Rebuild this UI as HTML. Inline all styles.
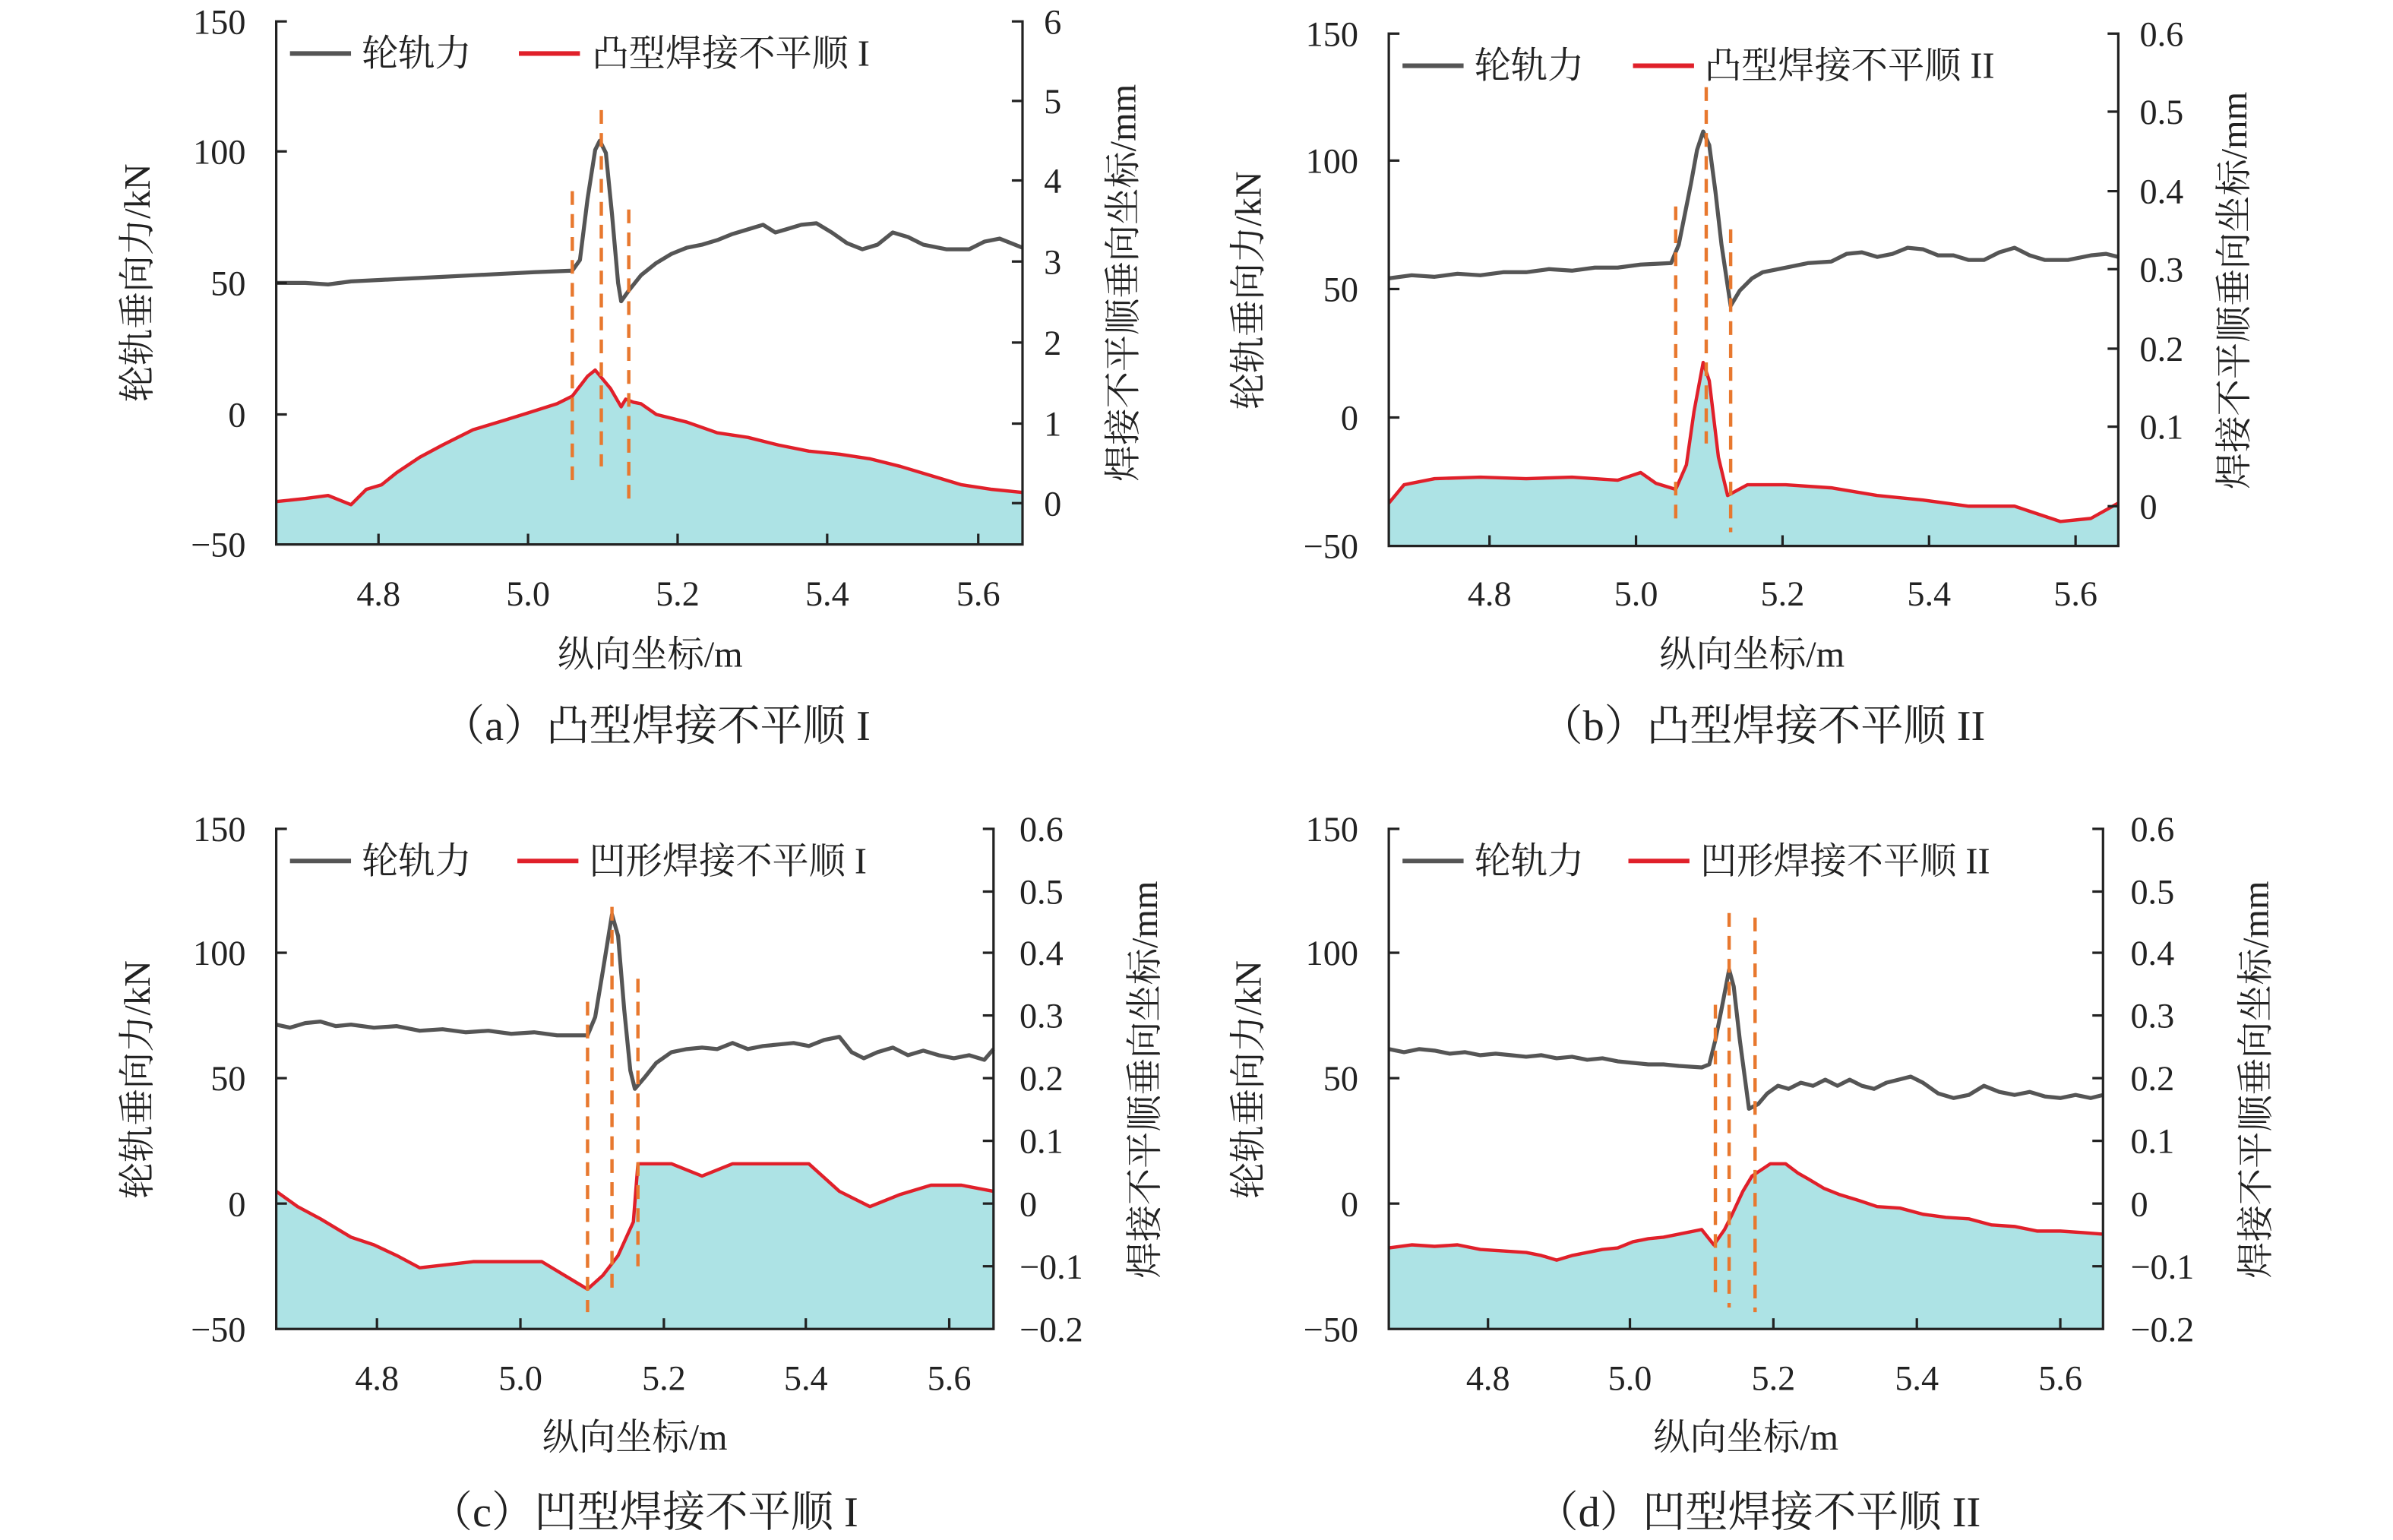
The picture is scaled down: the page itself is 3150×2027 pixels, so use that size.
<!DOCTYPE html>
<html><head><meta charset="utf-8"><style>
html,body{margin:0;padding:0;background:#fff;}
svg{display:block;}
text{font-family:"Liberation Serif","Noto Serif CJK SC",serif;fill:#222;}
.t{font-size:23px;}
.l{font-size:24px;}
.c{font-size:28px;}
.ax{stroke:#222;stroke-width:1.6;fill:none;}
.f{stroke:#555;stroke-width:2.6;fill:none;stroke-linejoin:round;}
.fill{fill:#ade3e5;stroke:none;}
.r{stroke:#e0202a;stroke-width:2.2;fill:none;stroke-linejoin:round;}
.d{stroke:#e8782e;stroke-width:2.2;stroke-dasharray:9 6;fill:none;}
</style></head><body>
<svg width="3150" height="2027" viewBox="0 0 1568 1007" preserveAspectRatio="none" xmlns="http://www.w3.org/2000/svg">

<!-- Panel a -->
<g>
<polygon class="fill" points="181,356 181,329 200,327 215,325 230,331 240,321 250,318 260,310 275,300 290,292 310,282 330,276 346,271 365,265 375,260 385,247 390,243 400,255 407,267 410,262 415,264 420,265 430,272 450,277 470,284 490,287 510,292 530,296 550,298 570,301 590,306 610,312 630,318 650,321 670,323 670,356"/>
<polyline class="r" points="181,328 200,326 215,324 230,330 240,320 250,317 260,309 275,299 290,291 310,281 330,275 346,270 365,264 375,259 385,246 390,242 400,254 407,266 410,261 415,263 420,264 430,271 450,276 470,283 490,286 510,291 530,295 550,297 570,300 590,305 610,311 630,317 650,320 670,322"/>
<polyline class="f" points="181,185 200,185 215,186 230,184 250,183 270,182 290,181 310,180 330,179 350,178 375,177 380,170 385,130 390,98 393,92 397,100 401,140 405,185 407,197 412,190 420,180 430,172 440,166 450,162 460,160 470,157 480,153 490,150 500,147 508,152 515,150 525,147 535,146 545,152 555,159 565,163 575,160 585,152 595,155 605,160 620,163 635,163 645,158 655,156 670,162"/>
<line class="d" x1="375" y1="125" x2="375" y2="318"/>
<line class="d" x1="394" y1="72" x2="394" y2="305"/>
<line class="d" x1="412" y1="137" x2="412" y2="330"/>
<polyline class="ax" points="188,14 181,14 181,356 670,356 670,14 663,14"/>
<g class="ax"><line x1="181" y1="99" x2="188" y2="99"/><line x1="181" y1="185" x2="188" y2="185"/><line x1="181" y1="271" x2="188" y2="271"/>
<line x1="663" y1="66" x2="670" y2="66"/><line x1="663" y1="118" x2="670" y2="118"/><line x1="663" y1="171" x2="670" y2="171"/><line x1="663" y1="224" x2="670" y2="224"/><line x1="663" y1="277" x2="670" y2="277"/><line x1="663" y1="329" x2="670" y2="329"/>
<line x1="248" y1="356" x2="248" y2="349"/><line x1="346" y1="356" x2="346" y2="349"/><line x1="444" y1="356" x2="444" y2="349"/><line x1="542" y1="356" x2="542" y2="349"/><line x1="641" y1="356" x2="641" y2="349"/></g>
<g class="t" text-anchor="end"><text x="161" y="22">150</text><text x="161" y="107">100</text><text x="161" y="193">50</text><text x="161" y="279">0</text><text x="161" y="364">−50</text></g>
<g class="t"><text x="684" y="22">6</text><text x="684" y="74">5</text><text x="684" y="126">4</text><text x="684" y="179">3</text><text x="684" y="232">2</text><text x="684" y="285">1</text><text x="684" y="337">0</text></g>
<g class="t" text-anchor="middle"><text x="248" y="396">4.8</text><text x="346" y="396">5.0</text><text x="444" y="396">5.2</text><text x="542" y="396">5.4</text><text x="641" y="396">5.6</text></g>
<line x1="190" y1="35" x2="230" y2="35" stroke="#555" stroke-width="3"/><text class="l" x="237" y="43">轮轨力</text>
<line x1="340" y1="35" x2="380" y2="35" stroke="#e0202a" stroke-width="3"/><text class="l" x="388" y="43">凸型焊接不平顺 I</text>
<text class="l" transform="translate(98,185) rotate(-90)" text-anchor="middle">轮轨垂向力/kN</text>
<text class="l" transform="translate(744,185) rotate(-90)" text-anchor="middle">焊接不平顺垂向坐标/mm</text>
<text class="l" x="426" y="436" text-anchor="middle">纵向坐标/m</text>
<text class="c" x="430" y="484" text-anchor="middle">（a）凸型焊接不平顺 I</text>
</g>

<!-- Panel b -->
<g>
<polygon class="fill" points="910,357 910,330 920,318 940,314 970,313 1000,314 1030,313 1060,315 1075,310 1085,317 1098,321 1105,305 1110,270 1116,238 1120,250 1126,300 1132,325 1145,318 1170,318 1200,320 1230,325 1260,328 1290,332 1320,332 1350,342 1370,340 1388,330 1388,357"/>
<polyline class="r" points="910,329 920,317 940,313 970,312 1000,313 1030,312 1060,314 1075,309 1085,316 1098,320 1105,304 1110,269 1116,237 1120,249 1126,299 1132,324 1145,317 1170,317 1200,319 1230,324 1260,327 1290,331 1320,331 1350,341 1370,339 1388,329"/>
<polyline class="f" points="910,182 925,180 940,181 955,179 970,180 985,178 1000,178 1015,176 1030,177 1045,175 1060,175 1075,173 1095,172 1100,160 1104,140 1108,120 1112,98 1116,86 1120,95 1124,125 1128,160 1134,200 1140,190 1148,182 1155,178 1170,175 1185,172 1200,171 1210,166 1220,165 1230,168 1240,166 1250,162 1260,163 1270,167 1280,167 1290,170 1300,170 1310,165 1320,162 1330,167 1340,170 1355,170 1370,167 1380,166 1388,168"/>
<line class="d" x1="1098" y1="135" x2="1098" y2="345"/>
<line class="d" x1="1118" y1="57" x2="1118" y2="290"/>
<line class="d" x1="1134" y1="150" x2="1134" y2="348"/>
<polyline class="ax" points="917,22 910,22 910,357 1388,357 1388,22 1381,22"/>
<g class="ax"><line x1="910" y1="105" x2="917" y2="105"/><line x1="910" y1="189" x2="917" y2="189"/><line x1="910" y1="273" x2="917" y2="273"/>
<line x1="1381" y1="73" x2="1388" y2="73"/><line x1="1381" y1="125" x2="1388" y2="125"/><line x1="1381" y1="176" x2="1388" y2="176"/><line x1="1381" y1="228" x2="1388" y2="228"/><line x1="1381" y1="279" x2="1388" y2="279"/><line x1="1381" y1="331" x2="1388" y2="331"/>
<line x1="976" y1="357" x2="976" y2="350"/><line x1="1072" y1="357" x2="1072" y2="350"/><line x1="1168" y1="357" x2="1168" y2="350"/><line x1="1264" y1="357" x2="1264" y2="350"/><line x1="1360" y1="357" x2="1360" y2="350"/></g>
<g class="t" text-anchor="end"><text x="890" y="30">150</text><text x="890" y="113">100</text><text x="890" y="197">50</text><text x="890" y="281">0</text><text x="890" y="365">−50</text></g>
<g class="t"><text x="1402" y="30">0.6</text><text x="1402" y="81">0.5</text><text x="1402" y="133">0.4</text><text x="1402" y="184">0.3</text><text x="1402" y="236">0.2</text><text x="1402" y="287">0.1</text><text x="1402" y="339">0</text></g>
<g class="t" text-anchor="middle"><text x="976" y="396">4.8</text><text x="1072" y="396">5.0</text><text x="1168" y="396">5.2</text><text x="1264" y="396">5.4</text><text x="1360" y="396">5.6</text></g>
<line x1="919" y1="43" x2="959" y2="43" stroke="#555" stroke-width="3"/><text class="l" x="966" y="51">轮轨力</text>
<line x1="1070" y1="43" x2="1110" y2="43" stroke="#e0202a" stroke-width="3"/><text class="l" x="1117" y="51">凸型焊接不平顺 II</text>
<text class="l" transform="translate(826,190) rotate(-90)" text-anchor="middle">轮轨垂向力/kN</text>
<text class="l" transform="translate(1472,190) rotate(-90)" text-anchor="middle">焊接不平顺垂向坐标/mm</text>
<text class="l" x="1148" y="436" text-anchor="middle">纵向坐标/m</text>
<text class="c" x="1155" y="484" text-anchor="middle">（b）凸型焊接不平顺 II</text>
</g>

<!-- Panel c -->
<g>
<polygon class="fill" points="181,869 181,780 195,790 210,798 230,810 245,815 260,822 275,830 310,826 355,826 375,838 385,844 395,835 405,822 415,800 418,762 440,762 460,770 480,762 530,762 550,780 570,790 590,782 610,776 630,776 651,780 651,869"/>
<polyline class="r" points="181,779 195,789 210,797 230,809 245,814 260,821 275,829 310,825 355,825 375,837 385,843 395,834 405,821 415,799 418,761 440,761 460,769 480,761 530,761 550,779 570,789 590,781 610,775 630,775 651,779"/>
<polyline class="f" points="181,670 190,672 200,669 210,668 220,671 230,670 245,672 260,671 275,674 290,673 305,675 320,674 335,676 350,675 365,677 385,677 390,665 395,635 401,598 405,612 409,660 413,700 416,712 422,705 430,695 440,688 450,686 460,685 470,686 480,682 490,686 500,684 510,683 520,682 530,684 540,680 550,678 558,688 566,692 575,688 585,685 595,690 605,687 615,690 625,692 635,690 645,693 651,686"/>
<line class="d" x1="385" y1="655" x2="385" y2="858"/>
<line class="d" x1="401" y1="593" x2="401" y2="848"/>
<line class="d" x1="418" y1="640" x2="418" y2="828"/>
<polyline class="ax" points="188,542 181,542 181,869 651,869 651,542 644,542"/>
<g class="ax"><line x1="181" y1="623" x2="188" y2="623"/><line x1="181" y1="705" x2="188" y2="705"/><line x1="181" y1="787" x2="188" y2="787"/>
<line x1="644" y1="583" x2="651" y2="583"/><line x1="644" y1="623" x2="651" y2="623"/><line x1="644" y1="664" x2="651" y2="664"/><line x1="644" y1="705" x2="651" y2="705"/><line x1="644" y1="746" x2="651" y2="746"/><line x1="644" y1="787" x2="651" y2="787"/><line x1="644" y1="828" x2="651" y2="828"/>
<line x1="247" y1="869" x2="247" y2="862"/><line x1="341" y1="869" x2="341" y2="862"/><line x1="435" y1="869" x2="435" y2="862"/><line x1="528" y1="869" x2="528" y2="862"/><line x1="622" y1="869" x2="622" y2="862"/></g>
<g class="t" text-anchor="end"><text x="161" y="550">150</text><text x="161" y="631">100</text><text x="161" y="713">50</text><text x="161" y="795">0</text><text x="161" y="877">−50</text></g>
<g class="t"><text x="668" y="550">0.6</text><text x="668" y="591">0.5</text><text x="668" y="631">0.4</text><text x="668" y="672">0.3</text><text x="668" y="713">0.2</text><text x="668" y="754">0.1</text><text x="668" y="795">0</text><text x="668" y="836">−0.1</text><text x="668" y="877">−0.2</text></g>
<g class="t" text-anchor="middle"><text x="247" y="909">4.8</text><text x="341" y="909">5.0</text><text x="435" y="909">5.2</text><text x="528" y="909">5.4</text><text x="622" y="909">5.6</text></g>
<line x1="190" y1="563" x2="230" y2="563" stroke="#555" stroke-width="3"/><text class="l" x="237" y="571">轮轨力</text>
<line x1="339" y1="563" x2="379" y2="563" stroke="#e0202a" stroke-width="3"/><text class="l" x="386" y="571">凹形焊接不平顺 I</text>
<text class="l" transform="translate(98,706) rotate(-90)" text-anchor="middle">轮轨垂向力/kN</text>
<text class="l" transform="translate(758,706) rotate(-90)" text-anchor="middle">焊接不平顺垂向坐标/mm</text>
<text class="l" x="416" y="948" text-anchor="middle">纵向坐标/m</text>
<text class="c" x="422" y="998" text-anchor="middle">（c）凹型焊接不平顺 I</text>
</g>

<!-- Panel d -->
<g>
<polygon class="fill" points="910,869 910,817 925,815 940,816 955,815 970,818 985,819 1000,820 1010,822 1020,825 1030,822 1040,820 1050,818 1060,817 1070,813 1080,811 1090,810 1100,808 1115,805 1123,815 1130,805 1135,795 1142,780 1148,770 1160,762 1170,762 1178,768 1185,772 1195,778 1205,782 1218,786 1230,790 1245,791 1260,795 1275,797 1290,798 1305,802 1320,803 1335,806 1350,806 1365,807 1378,808 1378,869"/>
<polyline class="r" points="910,816 925,814 940,815 955,814 970,817 985,818 1000,819 1010,821 1020,824 1030,821 1040,819 1050,817 1060,816 1070,812 1080,810 1090,809 1100,807 1115,804 1123,814 1130,804 1135,794 1142,779 1148,769 1160,761 1170,761 1178,767 1185,771 1195,777 1205,781 1218,785 1230,789 1245,790 1260,794 1275,796 1290,797 1305,801 1320,802 1335,805 1350,805 1365,806 1378,807"/>
<polyline class="f" points="910,686 920,688 930,686 940,687 950,689 960,688 970,690 980,689 990,690 1000,691 1010,690 1020,692 1030,691 1040,693 1050,692 1060,694 1070,695 1080,696 1090,696 1100,697 1115,698 1120,696 1124,680 1128,660 1133,634 1136,645 1140,680 1146,725 1152,722 1158,715 1165,710 1172,712 1180,708 1188,710 1196,706 1204,710 1212,706 1220,710 1228,712 1236,708 1244,706 1252,704 1260,708 1270,715 1280,718 1290,716 1300,710 1310,714 1320,716 1330,714 1340,717 1350,718 1360,716 1370,718 1378,716"/>
<line class="d" x1="1124" y1="657" x2="1124" y2="845"/>
<line class="d" x1="1133" y1="597" x2="1133" y2="855"/>
<line class="d" x1="1150" y1="600" x2="1150" y2="858"/>
<polyline class="ax" points="917,542 910,542 910,869 1378,869 1378,542 1371,542"/>
<g class="ax"><line x1="910" y1="623" x2="917" y2="623"/><line x1="910" y1="705" x2="917" y2="705"/><line x1="910" y1="787" x2="917" y2="787"/>
<line x1="1371" y1="583" x2="1378" y2="583"/><line x1="1371" y1="623" x2="1378" y2="623"/><line x1="1371" y1="664" x2="1378" y2="664"/><line x1="1371" y1="705" x2="1378" y2="705"/><line x1="1371" y1="746" x2="1378" y2="746"/><line x1="1371" y1="787" x2="1378" y2="787"/><line x1="1371" y1="828" x2="1378" y2="828"/>
<line x1="975" y1="869" x2="975" y2="862"/><line x1="1068" y1="869" x2="1068" y2="862"/><line x1="1162" y1="869" x2="1162" y2="862"/><line x1="1256" y1="869" x2="1256" y2="862"/><line x1="1350" y1="869" x2="1350" y2="862"/></g>
<g class="t" text-anchor="end"><text x="890" y="550">150</text><text x="890" y="631">100</text><text x="890" y="713">50</text><text x="890" y="795">0</text><text x="890" y="877">−50</text></g>
<g class="t"><text x="1396" y="550">0.6</text><text x="1396" y="591">0.5</text><text x="1396" y="631">0.4</text><text x="1396" y="672">0.3</text><text x="1396" y="713">0.2</text><text x="1396" y="754">0.1</text><text x="1396" y="795">0</text><text x="1396" y="836">−0.1</text><text x="1396" y="877">−0.2</text></g>
<g class="t" text-anchor="middle"><text x="975" y="909">4.8</text><text x="1068" y="909">5.0</text><text x="1162" y="909">5.2</text><text x="1256" y="909">5.4</text><text x="1350" y="909">5.6</text></g>
<line x1="919" y1="563" x2="959" y2="563" stroke="#555" stroke-width="3"/><text class="l" x="966" y="571">轮轨力</text>
<line x1="1067" y1="563" x2="1107" y2="563" stroke="#e0202a" stroke-width="3"/><text class="l" x="1114" y="571">凹形焊接不平顺 II</text>
<text class="l" transform="translate(826,706) rotate(-90)" text-anchor="middle">轮轨垂向力/kN</text>
<text class="l" transform="translate(1486,706) rotate(-90)" text-anchor="middle">焊接不平顺垂向坐标/mm</text>
<text class="l" x="1144" y="948" text-anchor="middle">纵向坐标/m</text>
<text class="c" x="1152" y="998" text-anchor="middle">（d）凹型焊接不平顺 II</text>
</g>
</svg>
</body></html>
